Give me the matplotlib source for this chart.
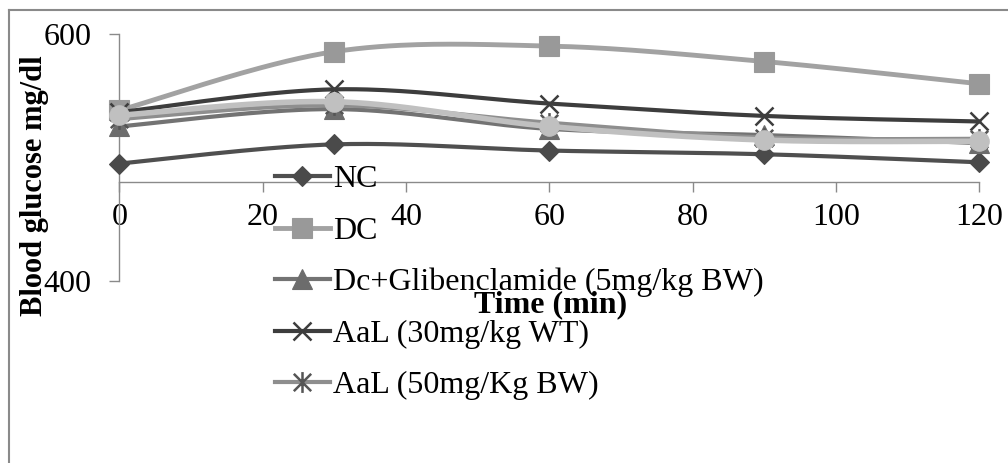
import numpy as np
import matplotlib.pyplot as plt
from matplotlib.lines import Line2D
from matplotlib.path import Path

plt.rcParams['font.family'] = ['Liberation Serif', 'DejaVu Serif']

# data (blood glucose, mg/dl)
time_min = [0, 30, 60, 90, 120]
nc = [495, 510.5, 505.5, 502.5, 496]
dc = [538, 585.5, 590, 577.5, 559.5]
glib = [525, 539, 523, 518, 511.5]
aal30 = [536.5, 555, 543.5, 533.5, 529]
aal50 = [531, 542, 528, 516, 515]
extra = [534, 545, 525, 514, 513]   # light circle series, not in legend

labels = ['NC', 'DC', 'Dc+Glibenclamide (5mg/kg BW)',
          'AaL (30mg/kg WT)', 'AaL (50mg/Kg BW)']

W, H = 1008, 463
grey_axis = '#8a8a8a'
fs = 23

asterisk = Path([(-1, -1), (1, 1), (-1, 1), (1, -1), (0, -1.2), (0, 1.2)],
                [Path.MOVETO, Path.LINETO, Path.MOVETO, Path.LINETO,
                 Path.MOVETO, Path.LINETO])


def smooth(xs, ys, n=40):
    # bezier smoothing like a spreadsheet "smoothed line"
    pts = np.column_stack([xs, ys]).astype(float)
    ext = np.vstack([pts[0], pts, pts[-1]])
    out = []
    t = np.linspace(0, 1, n)[:, None]
    for i in range(len(pts) - 1):
        p0, p1, p2, p3 = ext[i], ext[i + 1], ext[i + 2], ext[i + 3]
        c1 = p1 + (p2 - p0) / 6
        c2 = p2 - (p3 - p1) / 6
        seg = (1 - t) ** 3 * p1 + 3 * (1 - t) ** 2 * t * c1 + 3 * (1 - t) * t ** 2 * c2 + t ** 3 * p2
        out.append(seg if i == 0 else seg[1:])
    return np.vstack(out)


styles = [
    dict(y=nc, lc='#4f4f4f', lw=3.0, m='D', ms=10.5, mc='#4a4a4a'),
    dict(y=dc, lc='#a2a2a2', lw=3.5, m='s', ms=14, mc='#999999'),
    dict(y=glib, lc='#737373', lw=3.0, m='^', ms=14, mc='#6c6c6c'),
    dict(y=aal30, lc='#3d3d3d', lw=3.0, m='x', ms=13, mc='#3d3d3d'),
    dict(y=aal50, lc='#8e8e8e', lw=3.0, m=asterisk, ms=15, mc='#555555'),
    dict(y=extra, lc='#c0c0c0', lw=4.0, m='o', ms=14, mc='#c0c0c0'),
]

fig = plt.figure(figsize=(W / 100, H / 100), dpi=100)
ax = fig.add_axes([119.3 / W, (H - 281) / H, 860 / W, (281 - 33.7) / H])

handles = []
for i, s in enumerate(styles):
    curve = smooth(time_min, s['y'])
    ax.plot(curve[:, 0], curve[:, 1], color=s['lc'], lw=s['lw'],
            solid_capstyle='round', zorder=3 + i, clip_on=False)
    mew = 1.8 if s['m'] in ('x',) or s['m'] is asterisk else 0.8
    ax.plot(time_min, s['y'], linestyle='none', marker=s['m'], ms=s['ms'],
            mfc=s['mc'], mec=s['mc'], mew=mew, zorder=3 + i, clip_on=False)
    if i < len(labels):
        handles.append(Line2D([], [], color=s['lc'], lw=s['lw'], marker=s['m'],
                              ms=s['ms'], mfc=s['mc'], mec=s['mc'], mew=mew))

ax.set_xlim(0, 120)
ax.set_ylim(400, 600)
ax.set_xticks(range(0, 121, 20))
ax.set_yticks([400, 600])

for side in ('top', 'right'):
    ax.spines[side].set_visible(False)
ax.spines['bottom'].set_position(('data', 480))
for side in ('left', 'bottom'):
    ax.spines[side].set_color(grey_axis)
    ax.spines[side].set_linewidth(1.0)
ax.patch.set_visible(False)

ax.tick_params(axis='both', direction='out', length=7, width=1.0,
               color=grey_axis, labelsize=fs)
ax.tick_params(axis='y', pad=13)
ax.tick_params(axis='x', pad=8)

leg = ax.legend(handles, labels, loc='upper left',
                bbox_to_anchor=(275 / W, 1 - 165 / H), bbox_transform=fig.transFigure,
                frameon=False, fontsize=fs, handlelength=1.72, handletextpad=0.1,
                labelspacing=0.69, borderpad=0, borderaxespad=0)
leg.set_zorder(20)

fig.text(35 / W, 1 - 186 / H, 'Blood glucose mg/dl', rotation=90, ha='center',
         va='center', fontsize=22, fontweight='bold')
fig.text(551 / W, 1 - 312 / H, 'Time (min)', ha='center', va='baseline',
         fontsize=fs, fontweight='bold', zorder=30)

fig.add_artist(Line2D([9 / W, 9 / W], [0, 1 - 10 / H], transform=fig.transFigure,
                      color=grey_axis, lw=1.5))
fig.add_artist(Line2D([9 / W, 1], [1 - 10 / H, 1 - 10 / H], transform=fig.transFigure,
                      color=grey_axis, lw=1.5))

fig.savefig('out.png', dpi=100)
